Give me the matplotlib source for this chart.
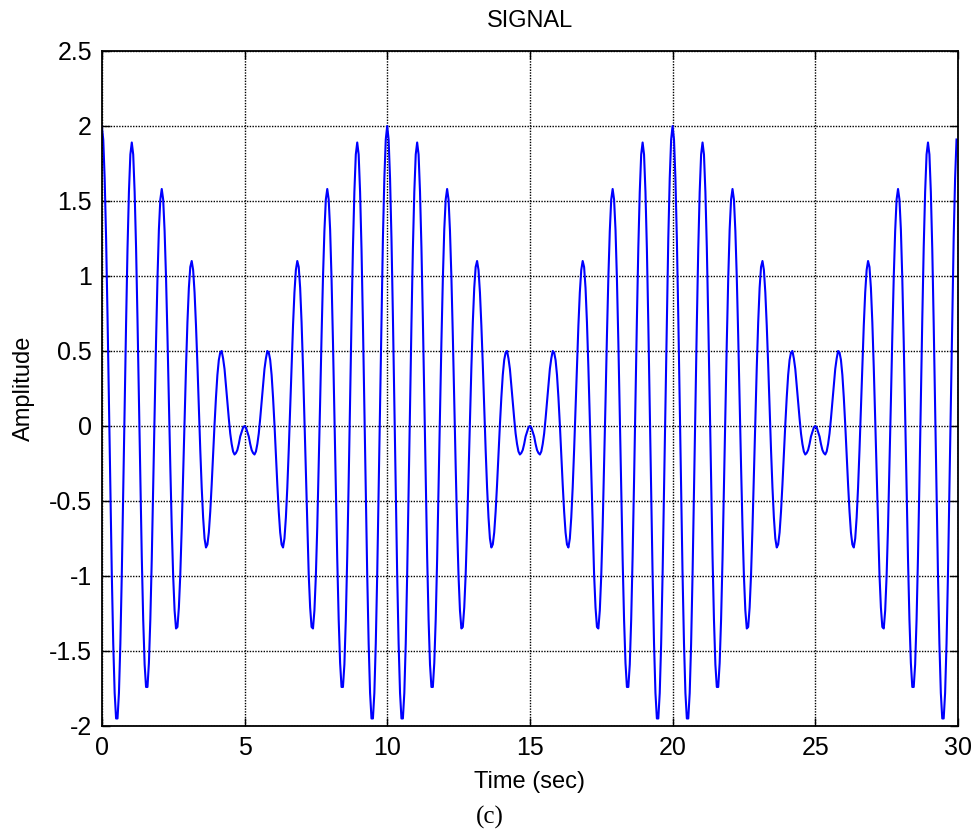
import numpy as np
import matplotlib
matplotlib.use("Agg")
import matplotlib.pyplot as plt

time_step = 0.05
amplitude = [
    2.00, 1.91, 1.65, 1.25, 0.73, 0.16, -0.43, -0.99, -1.45, -1.78, -1.95, -1.95, -1.78, -1.45, -0.99, -0.45, 0.12, 0.68, 1.18, 1.56,
    1.81, 1.89, 1.81, 1.56, 1.19, 0.71, 0.17, -0.37, -0.87, -1.29, -1.59, -1.74, -1.74, -1.58, -1.29, -0.89, -0.42, 0.08, 0.56, 0.98,
    1.31, 1.51, 1.58, 1.51, 1.30, 0.99, 0.60, 0.16, -0.27, -0.67, -1.00, -1.23, -1.35, -1.34, -1.21, -0.99, -0.68, -0.33, 0.04, 0.39,
    0.69, 0.92, 1.06, 1.10, 1.04, 0.89, 0.67, 0.41, 0.12, -0.16, -0.41, -0.61, -0.75, -0.81, -0.79, -0.71, -0.57, -0.39, -0.19, 0.01,
    0.19, 0.34, 0.44, 0.49, 0.50, 0.45, 0.38, 0.27, 0.16, 0.05, -0.05, -0.12, -0.17, -0.19, -0.18, -0.16, -0.12, -0.07, -0.04, -0.01,
    0.00, -0.01, -0.04, -0.07, -0.12, -0.16, -0.18, -0.19, -0.17, -0.12, -0.05, 0.05, 0.16, 0.27, 0.38, 0.45, 0.50, 0.49, 0.44, 0.34,
    0.19, 0.01, -0.19, -0.39, -0.57, -0.71, -0.79, -0.81, -0.75, -0.61, -0.41, -0.16, 0.12, 0.41, 0.67, 0.89, 1.04, 1.10, 1.06, 0.92,
    0.69, 0.39, 0.04, -0.33, -0.68, -0.99, -1.21, -1.34, -1.35, -1.23, -1.00, -0.67, -0.27, 0.16, 0.60, 0.99, 1.30, 1.51, 1.58, 1.51,
    1.31, 0.98, 0.56, 0.08, -0.42, -0.89, -1.29, -1.58, -1.74, -1.74, -1.59, -1.29, -0.87, -0.37, 0.17, 0.71, 1.19, 1.56, 1.81, 1.89,
    1.81, 1.56, 1.18, 0.68, 0.12, -0.45, -0.99, -1.45, -1.78, -1.95, -1.95, -1.78, -1.45, -0.99, -0.43, 0.16, 0.73, 1.25, 1.65, 1.91,
    2.00, 1.91, 1.65, 1.25, 0.73, 0.16, -0.43, -0.99, -1.45, -1.78, -1.95, -1.95, -1.78, -1.45, -0.99, -0.45, 0.12, 0.68, 1.18, 1.56,
    1.81, 1.89, 1.81, 1.56, 1.19, 0.71, 0.17, -0.37, -0.87, -1.29, -1.59, -1.74, -1.74, -1.58, -1.29, -0.89, -0.42, 0.08, 0.56, 0.98,
    1.31, 1.51, 1.58, 1.51, 1.30, 0.99, 0.60, 0.16, -0.27, -0.67, -1.00, -1.23, -1.35, -1.34, -1.21, -0.99, -0.68, -0.33, 0.04, 0.39,
    0.69, 0.92, 1.06, 1.10, 1.04, 0.89, 0.67, 0.41, 0.12, -0.16, -0.41, -0.61, -0.75, -0.81, -0.79, -0.71, -0.57, -0.39, -0.19, 0.01,
    0.19, 0.34, 0.44, 0.49, 0.50, 0.45, 0.38, 0.27, 0.16, 0.05, -0.05, -0.12, -0.17, -0.19, -0.18, -0.16, -0.12, -0.07, -0.04, -0.01,
    0.00, -0.01, -0.04, -0.07, -0.12, -0.16, -0.18, -0.19, -0.17, -0.12, -0.05, 0.05, 0.16, 0.27, 0.38, 0.45, 0.50, 0.49, 0.44, 0.34,
    0.19, 0.01, -0.19, -0.39, -0.57, -0.71, -0.79, -0.81, -0.75, -0.61, -0.41, -0.16, 0.12, 0.41, 0.67, 0.89, 1.04, 1.10, 1.06, 0.92,
    0.69, 0.39, 0.04, -0.33, -0.68, -0.99, -1.21, -1.34, -1.35, -1.23, -1.00, -0.67, -0.27, 0.16, 0.60, 0.99, 1.30, 1.51, 1.58, 1.51,
    1.31, 0.98, 0.56, 0.08, -0.42, -0.89, -1.29, -1.58, -1.74, -1.74, -1.59, -1.29, -0.87, -0.37, 0.17, 0.71, 1.19, 1.56, 1.81, 1.89,
    1.81, 1.56, 1.18, 0.68, 0.12, -0.45, -0.99, -1.45, -1.78, -1.95, -1.95, -1.78, -1.45, -0.99, -0.43, 0.16, 0.73, 1.25, 1.65, 1.91,
    2.00, 1.91, 1.65, 1.25, 0.73, 0.16, -0.43, -0.99, -1.45, -1.78, -1.95, -1.95, -1.78, -1.45, -0.99, -0.45, 0.12, 0.68, 1.18, 1.56,
    1.81, 1.89, 1.81, 1.56, 1.19, 0.71, 0.17, -0.37, -0.87, -1.29, -1.59, -1.74, -1.74, -1.58, -1.29, -0.89, -0.42, 0.08, 0.56, 0.98,
    1.31, 1.51, 1.58, 1.51, 1.30, 0.99, 0.60, 0.16, -0.27, -0.67, -1.00, -1.23, -1.35, -1.34, -1.21, -0.99, -0.68, -0.33, 0.04, 0.39,
    0.69, 0.92, 1.06, 1.10, 1.04, 0.89, 0.67, 0.41, 0.12, -0.16, -0.41, -0.61, -0.75, -0.81, -0.79, -0.71, -0.57, -0.39, -0.19, 0.01,
    0.19, 0.34, 0.44, 0.49, 0.50, 0.45, 0.38, 0.27, 0.16, 0.05, -0.05, -0.12, -0.17, -0.19, -0.18, -0.16, -0.12, -0.07, -0.04, -0.01,
    0.00, -0.01, -0.04, -0.07, -0.12, -0.16, -0.18, -0.19, -0.17, -0.12, -0.05, 0.05, 0.16, 0.27, 0.38, 0.45, 0.50, 0.49, 0.44, 0.34,
    0.19, 0.01, -0.19, -0.39, -0.57, -0.71, -0.79, -0.81, -0.75, -0.61, -0.41, -0.16, 0.12, 0.41, 0.67, 0.89, 1.04, 1.10, 1.06, 0.92,
    0.69, 0.39, 0.04, -0.33, -0.68, -0.99, -1.21, -1.34, -1.35, -1.23, -1.00, -0.67, -0.27, 0.16, 0.60, 0.99, 1.30, 1.51, 1.58, 1.51,
    1.31, 0.98, 0.56, 0.08, -0.42, -0.89, -1.29, -1.58, -1.74, -1.74, -1.59, -1.29, -0.87, -0.37, 0.17, 0.71, 1.19, 1.56, 1.81, 1.89,
    1.81, 1.56, 1.18, 0.68, 0.12, -0.45, -0.99, -1.45, -1.78, -1.95, -1.95, -1.78, -1.45, -0.99, -0.43, 0.16, 0.73, 1.25, 1.65, 1.91,
]
time = np.arange(len(amplitude)) * time_step

x_ticks = [0, 5, 10, 15, 20, 25, 30]
y_ticks = [-2, -1.5, -1, -0.5, 0, 0.5, 1, 1.5, 2, 2.5]
y_tick_labels = ["-2", "-1.5", "-1", "-0.5", "0", "0.5", "1", "1.5", "2", "2.5"]

plt.rcParams["font.family"] = ["Liberation Sans", "DejaVu Sans"]

fig = plt.figure(figsize=(9.79, 8.36), dpi=100)
ax = fig.add_axes([0.104, 0.1316, 0.8745, 0.8074])

ax.plot(time, amplitude, color="#0000ff", linewidth=1.5)

ax.set_xlim(0, 30)
ax.set_ylim(-2, 2.5)
ax.set_xticks(x_ticks)
ax.set_yticks(y_ticks)
ax.set_yticklabels(y_tick_labels)
ax.grid(True, color="black", linestyle=(0, (1, 1)), linewidth=1.0)
ax.tick_params(direction="in", top=True, right=True, length=6, width=1,
               labelsize=18, pad=7)
for sp in ax.spines.values():
    sp.set_linewidth(1.3)

ax.set_title("SIGNAL", fontsize=17, pad=17)
ax.set_xlabel("Time (sec)", fontsize=17, labelpad=8)
ax.set_ylabel("Amplitude", fontsize=17, labelpad=10)

fig.text(0.5, 0.022, "(c)", ha="center", va="center", fontsize=18,
         family=["Liberation Serif", "DejaVu Serif"])

fig.savefig("out.png", dpi=100)
